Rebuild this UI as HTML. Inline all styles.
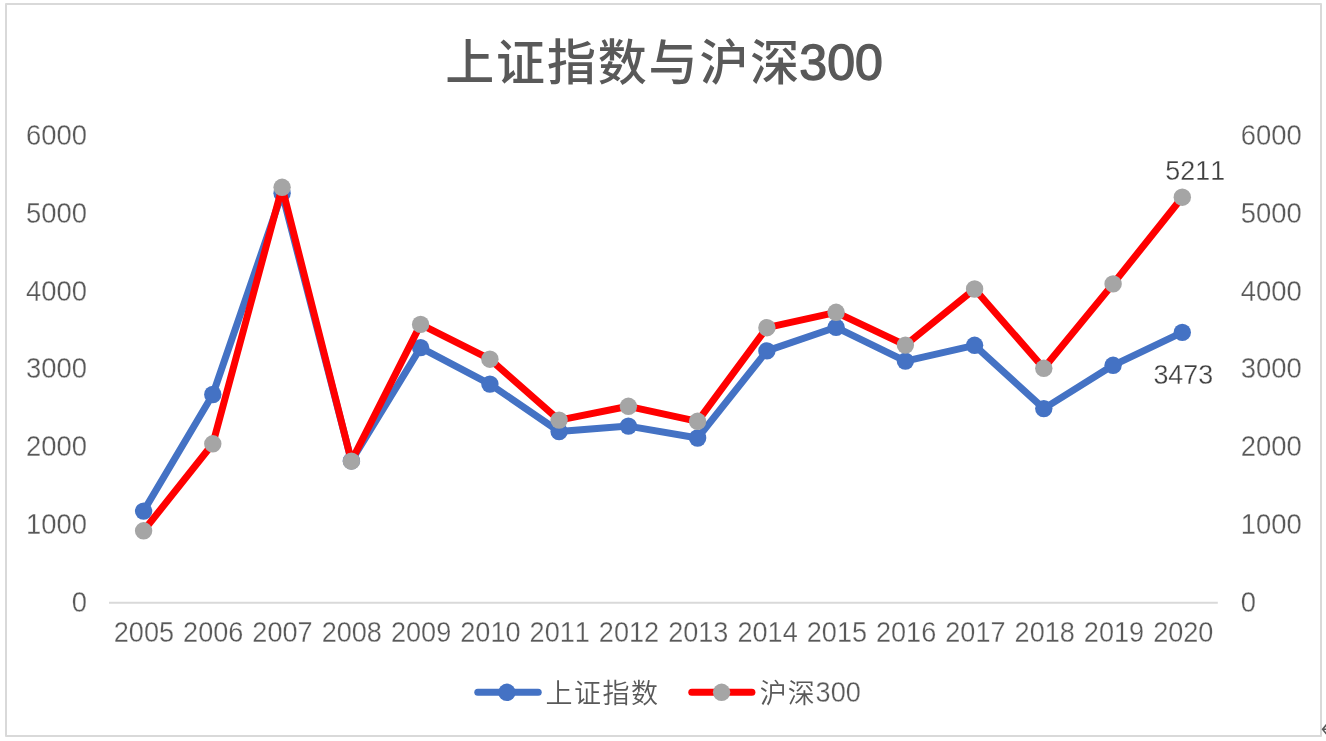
<!DOCTYPE html>
<html lang="zh-CN"><head><meta charset="utf-8"><title>上证指数与沪深300</title>
<style>
html,body{margin:0;padding:0;background:#fff;}
body{width:1326px;height:741px;overflow:hidden;position:relative;}
svg{position:absolute;left:0;top:0;display:block;will-change:transform;}
text{font-family:"Liberation Sans","Noto Sans CJK SC",sans-serif;fill:#595959;font-kerning:none;}
.ax{font-size:29.3px;stroke:#fff;stroke-width:0.3px;paint-order:fill stroke;}
.dl{fill:#404040;font-size:27.7px;}
.cj{font-family:"Liberation Sans","Noto Sans CJK SC",sans-serif;font-weight:350;}
</style></head><body>
<svg width="1326" height="741" viewBox="0 0 1326 741">
<rect x="6" y="4" width="1315" height="732" fill="#fff" stroke="#D9D9D9" stroke-width="2" stroke-linejoin="round"/>
<text x="445.2" y="80.2" font-size="49" font-weight="500" letter-spacing="1.85" style="font-family:'Liberation Sans','Noto Sans CJK SC',sans-serif">上证指数与沪深<tspan font-weight="400" font-size="50" letter-spacing="0" stroke="#595959" stroke-width="1.4" stroke-linejoin="round" dx="-1.8" dy="-0.6">300</tspan></text>
<line x1="109" y1="602.8" x2="1217.8" y2="602.8" stroke="#D9D9D9" stroke-width="2" stroke-linejoin="round"/>
<text class="ax" transform="translate(87.0,612.0) scale(0.935,1)" text-anchor="end">0</text>
<text class="ax" transform="translate(1240.7,612.0) scale(0.935,1)" text-anchor="start">0</text>
<text class="ax" transform="translate(87.0,534.0) scale(0.935,1)" text-anchor="end">1000</text>
<text class="ax" transform="translate(1240.7,534.0) scale(0.935,1)" text-anchor="start">1000</text>
<text class="ax" transform="translate(87.0,456.0) scale(0.935,1)" text-anchor="end">2000</text>
<text class="ax" transform="translate(1240.7,456.0) scale(0.935,1)" text-anchor="start">2000</text>
<text class="ax" transform="translate(87.0,378.0) scale(0.935,1)" text-anchor="end">3000</text>
<text class="ax" transform="translate(1240.7,378.0) scale(0.935,1)" text-anchor="start">3000</text>
<text class="ax" transform="translate(87.0,301.0) scale(0.935,1)" text-anchor="end">4000</text>
<text class="ax" transform="translate(1240.7,301.0) scale(0.935,1)" text-anchor="start">4000</text>
<text class="ax" transform="translate(87.0,223.0) scale(0.935,1)" text-anchor="end">5000</text>
<text class="ax" transform="translate(1240.7,223.0) scale(0.935,1)" text-anchor="start">5000</text>
<text class="ax" transform="translate(87.0,145.0) scale(0.935,1)" text-anchor="end">6000</text>
<text class="ax" transform="translate(1240.7,145.0) scale(0.935,1)" text-anchor="start">6000</text>
<text class="ax" transform="translate(143.9,642.3) scale(0.925,1)" text-anchor="middle">2005</text>
<text class="ax" transform="translate(213.2,642.3) scale(0.925,1)" text-anchor="middle">2006</text>
<text class="ax" transform="translate(282.5,642.3) scale(0.925,1)" text-anchor="middle">2007</text>
<text class="ax" transform="translate(351.8,642.3) scale(0.925,1)" text-anchor="middle">2008</text>
<text class="ax" transform="translate(421.1,642.3) scale(0.925,1)" text-anchor="middle">2009</text>
<text class="ax" transform="translate(490.4,642.3) scale(0.925,1)" text-anchor="middle">2010</text>
<text class="ax" transform="translate(559.7,642.3) scale(0.925,1)" text-anchor="middle">2011</text>
<text class="ax" transform="translate(629.0,642.3) scale(0.925,1)" text-anchor="middle">2012</text>
<text class="ax" transform="translate(698.3,642.3) scale(0.925,1)" text-anchor="middle">2013</text>
<text class="ax" transform="translate(767.6,642.3) scale(0.925,1)" text-anchor="middle">2014</text>
<text class="ax" transform="translate(836.9,642.3) scale(0.925,1)" text-anchor="middle">2015</text>
<text class="ax" transform="translate(906.1,642.3) scale(0.925,1)" text-anchor="middle">2016</text>
<text class="ax" transform="translate(975.4,642.3) scale(0.925,1)" text-anchor="middle">2017</text>
<text class="ax" transform="translate(1044.7,642.3) scale(0.925,1)" text-anchor="middle">2018</text>
<text class="ax" transform="translate(1114.0,642.3) scale(0.925,1)" text-anchor="middle">2019</text>
<text class="ax" transform="translate(1183.3,642.3) scale(0.925,1)" text-anchor="middle">2020</text>
<polyline points="143.6,511.1 212.8,394.5 282.1,193.2 351.4,460.9 420.6,347.6 489.9,384.1 559.1,431.5 628.4,426.1 697.6,438.0 766.9,350.9 836.1,327.3 905.4,361.1 974.6,345.3 1043.8,408.6 1113.1,365.3 1182.3,332.4" fill="none" stroke="#4472C4" stroke-width="7" stroke-linejoin="round" stroke-linecap="round"/>
<circle cx="143.6" cy="511.1" r="8.7" fill="#4472C4"/>
<circle cx="212.8" cy="394.5" r="8.7" fill="#4472C4"/>
<circle cx="282.1" cy="193.2" r="8.7" fill="#4472C4"/>
<circle cx="351.4" cy="460.9" r="8.7" fill="#4472C4"/>
<circle cx="420.6" cy="347.6" r="8.7" fill="#4472C4"/>
<circle cx="489.9" cy="384.1" r="8.7" fill="#4472C4"/>
<circle cx="559.1" cy="431.5" r="8.7" fill="#4472C4"/>
<circle cx="628.4" cy="426.1" r="8.7" fill="#4472C4"/>
<circle cx="697.6" cy="438.0" r="8.7" fill="#4472C4"/>
<circle cx="766.9" cy="350.9" r="8.7" fill="#4472C4"/>
<circle cx="836.1" cy="327.3" r="8.7" fill="#4472C4"/>
<circle cx="905.4" cy="361.1" r="8.7" fill="#4472C4"/>
<circle cx="974.6" cy="345.3" r="8.7" fill="#4472C4"/>
<circle cx="1043.8" cy="408.6" r="8.7" fill="#4472C4"/>
<circle cx="1113.1" cy="365.3" r="8.7" fill="#4472C4"/>
<circle cx="1182.3" cy="332.4" r="8.7" fill="#4472C4"/>
<polyline points="143.6,530.8 212.8,443.8 282.1,187.3 351.4,461.2 420.6,324.4 489.9,359.2 559.1,420.1 628.4,406.3 697.6,421.3 766.9,327.7 836.1,312.3 905.4,345.1 974.6,289.0 1043.8,368.3 1113.1,283.9 1182.3,197.2" fill="none" stroke="#FF0000" stroke-width="7" stroke-linejoin="round" stroke-linecap="round"/>
<circle cx="143.6" cy="530.8" r="8.7" fill="#A5A5A5"/>
<circle cx="212.8" cy="443.8" r="8.7" fill="#A5A5A5"/>
<circle cx="282.1" cy="187.3" r="8.7" fill="#A5A5A5"/>
<circle cx="351.4" cy="461.2" r="8.7" fill="#A5A5A5"/>
<circle cx="420.6" cy="324.4" r="8.7" fill="#A5A5A5"/>
<circle cx="489.9" cy="359.2" r="8.7" fill="#A5A5A5"/>
<circle cx="559.1" cy="420.1" r="8.7" fill="#A5A5A5"/>
<circle cx="628.4" cy="406.3" r="8.7" fill="#A5A5A5"/>
<circle cx="697.6" cy="421.3" r="8.7" fill="#A5A5A5"/>
<circle cx="766.9" cy="327.7" r="8.7" fill="#A5A5A5"/>
<circle cx="836.1" cy="312.3" r="8.7" fill="#A5A5A5"/>
<circle cx="905.4" cy="345.1" r="8.7" fill="#A5A5A5"/>
<circle cx="974.6" cy="289.0" r="8.7" fill="#A5A5A5"/>
<circle cx="1043.8" cy="368.3" r="8.7" fill="#A5A5A5"/>
<circle cx="1113.1" cy="283.9" r="8.7" fill="#A5A5A5"/>
<circle cx="1182.3" cy="197.2" r="8.7" fill="#A5A5A5"/>
<text class="ax dl" transform="translate(1195.2,180) scale(0.97,1)" text-anchor="middle">5211</text>
<text class="ax dl" transform="translate(1183.3,384) scale(0.97,1)" text-anchor="middle">3473</text>
<line x1="477.8" y1="692.3" x2="538.2" y2="692.3" stroke="#4472C4" stroke-width="7" stroke-linecap="round"/><circle cx="506.9" cy="692.3" r="8.7" fill="#4472C4"/>
<text class="cj" x="545.6" y="702.7" font-size="27" letter-spacing="1.5">上证指数</text>
<line x1="691.8" y1="692.3" x2="751.9" y2="692.3" stroke="#FF0000" stroke-width="7" stroke-linecap="round"/><circle cx="721.6" cy="692.3" r="8.7" fill="#A5A5A5"/>
<text class="cj" x="759.8" y="702.7" font-size="27" letter-spacing="0.9">沪深</text>
<text class="ax" transform="translate(815.6,702.2) scale(0.925,1)">300</text>
<path d="M1326.5 724.6 L1322.6 729.3 L1326.5 734 M1322.6 729.3 L1327 729.3" fill="none" stroke="#595959" stroke-width="1.6"/>
</svg></body></html>
